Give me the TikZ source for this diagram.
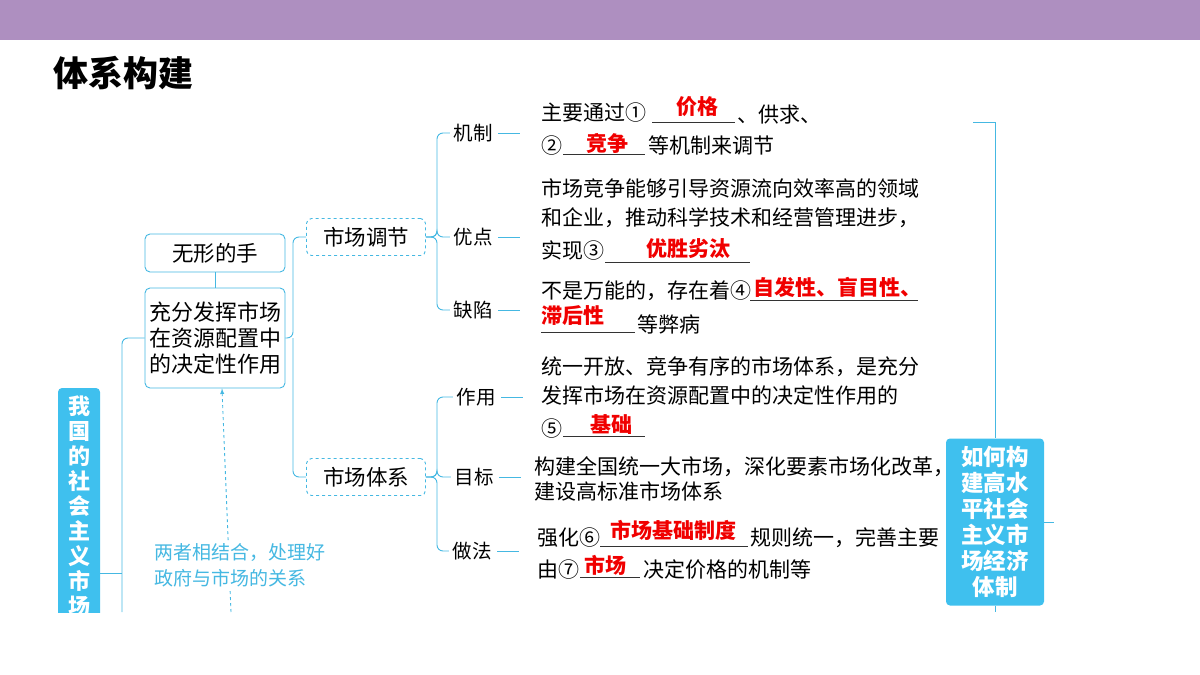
\documentclass[tikz,border=0pt]{standalone}
\usepackage{fontspec}
\setmainfont{Noto Sans CJK SC}
\usetikzlibrary{positioning}
\definecolor{topbar}{HTML}{AE8FC0}
\definecolor{lnblue}{HTML}{45B8E2}
\definecolor{boxblue}{HTML}{3FC0EE}
\definecolor{ansred}{HTML}{F00000}
\tikzset{
  lnk/.style={draw=lnblue, line width=0.9pt},
  whitebox/.style={draw=lnblue, line width=0.9pt, rounded corners=5pt, fill=white, inner sep=3pt},
  dashbox/.style={draw=lnblue, line width=0.9pt, dashed, rounded corners=5pt, minimum width=119pt, minimum height=37pt, font=\fontsize{21.5}{24}\selectfont},
  bluebox/.style={fill=boxblue, rounded corners=4pt, text=white, font=\bfseries\fontsize{22.5}{26}\selectfont, align=center},
  lbl/.style={font=\fontsize{19.5}{22}\selectfont},
  txt/.style={anchor=base west, inner sep=0pt, font=\fontsize{21}{22}\selectfont},
  ans/.style={anchor=base, inner sep=0pt, text=ansred, font=\bfseries\fontsize{21}{22}\selectfont},
  uline/.style={draw=black!80, line width=0.8pt},
}
\begin{document}
\begin{tikzpicture}[x=1pt,y=-1pt]
    \useasboundingbox (0,0) rectangle (1200,675);
    \fill[topbar] (0,0) rectangle (1200,40);
    \node[anchor=base west, inner sep=0pt, font=\bfseries\fontsize{35}{36}\selectfont] (title) at (53,86) {体系构建};

    % left side
    \begin{scope}
        \clip (0,0) rectangle (1200,612);
        \fill[boxblue, rounded corners=4pt] (58,388) rectangle (100,640);
        \node[anchor=north, inner sep=0pt, text=white, font=\bfseries\fontsize{22}{25}\selectfont, align=center] (leftlbl) at (79,396) {我\\国\\的\\社\\会\\主\\义\\市\\场};
    \end{scope}
    \coordinate (lefttip) at (100,573);
    \coordinate (trunkbot) at (122,612);
    \node[whitebox, minimum width=140pt, minimum height=38pt, font=\fontsize{21.5}{24}\selectfont] (hand) at (215,253) {无形的手};
    \node[whitebox, minimum width=140pt, minimum height=100pt, align=left, font=\fontsize{22}{26}\selectfont] (chong) at (215,338) {充分发挥市场\\在资源配置中\\的决定性作用};
    \draw[lnk] (hand) -- (chong);
    \draw[lnk] (lefttip) -- (122,573);
    \draw[lnk, rounded corners=6pt] (trunkbot) |- (chong.west);

    % dashed link
    \coordinate (dashbot) at (231,612);
    \draw[lnk, dashed, -latex] (dashbot) -- (chong.south -| 222,0);
    \node[anchor=north west, fill=white, inner sep=2pt, text=lnblue, align=left, font=\fontsize{19}{26}\selectfont] (jiehe) at (152,541) {两者相结合，处理好\\政府与市场的关系};

    % second level
    \node[dashbox] (tiaojie) at (366,237) {市场调节};
    \node[dashbox] (tixi) at (366,477) {市场体系};
    \draw[lnk, rounded corners=6pt] (chong.east) -- (293,338) |- (tiaojie.west);
    \draw[lnk, rounded corners=6pt] (293,338) |- (tixi.west);

    % third level
    \node[lbl] (jizhi) at (473,133) {机制};
    \node[lbl] (youdian) at (473,237) {优点};
    \node[lbl] (quexian) at (473,310) {缺陷};
    \node[lbl] (zuoyong) at (476,397) {作用};
    \node[lbl] (mubiao) at (474,477) {目标};
    \node[lbl] (zuofa) at (472,551) {做法};
    \foreach \n in {jizhi,youdian,quexian} {
        \draw[lnk, rounded corners=6pt] (tiaojie.east) -- (437,237) |- (\n.west);
    }
    \foreach \n in {zuoyong,mubiao,zuofa} {
        \draw[lnk, rounded corners=6pt] (tixi.east) -- (437,477) |- (\n.west);
    }
    \foreach \n in {jizhi,youdian,quexian,zuoyong,mubiao,zuofa} {
        \draw[lnk] (\n.east) ++(2,0) -- ++(22,0);
    }

    % texts
    \node[txt] (t1) at (541,120) {主要通过①};
    \draw[uline] (652,122) -- (735,122);
    \node[ans] (a1) at (697,114) {价格};
    \node[txt] (t1b) at (737,122) {、供求、};
    \node[txt] (t2) at (541,153) {②};
    \draw[uline] (563,154) -- (645,154);
    \node[ans] (a2) at (607,151) {竞争};
    \node[txt] (t2b) at (648,153) {等机制来调节};

    \node[txt] (t3) at (541,196) {市场竞争能够引导资源流向效率高的领域};
    \node[txt] (t4) at (541,225) {和企业，推动科学技术和经营管理进步，};
    \node[txt] (t5) at (541,258) {实现③};
    \draw[uline] (605,262) -- (750,262);
    \node[ans] (a3) at (688,256) {优胜劣汰};

    \node[txt] (t6) at (541,298) {不是万能的，存在着④};
    \draw[uline] (750,300) -- (918,300);
    \node[ans, anchor=base west] (a4) at (753,295) {自发性、盲目性、};
    \node[ans, anchor=base west] (a4b) at (541,323) {滞后性};
    \draw[uline] (541,332) -- (635,332);
    \node[txt] (t6b) at (637,332) {等弊病};

    \node[txt] (t7) at (541,374) {统一开放、竞争有序的市场体系，是充分};
    \node[txt] (t8) at (541,403) {发挥市场在资源配置中的决定性作用的};
    \node[txt] (t9) at (541,436) {⑤};
    \draw[uline] (563,436) -- (645,436);
    \node[ans] (a5) at (611,432) {基础};

    \node[txt] (t10) at (534,474) {构建全国统一大市场，深化要素市场化改革，};
    \node[txt] (t11) at (534,499) {建设高标准市场体系};

    \node[txt] (t12) at (537,545) {强化⑥};
    \draw[uline] (600,546) -- (748,546);
    \node[ans] (a6) at (673,538) {市场基础制度};
    \node[txt] (t12b) at (750,545) {规则统一，完善主要};
    \node[txt] (t13) at (537,577) {由⑦};
    \draw[uline] (580,577) -- (640,577);
    \node[ans] (a7) at (605,573) {市场};
    \node[txt] (t13b) at (643,577) {决定价格的机制等};

    % right box
    \node[bluebox, minimum width=98pt, minimum height=167pt] (rbox) at (995,522) {如何构\\建高水\\平社会\\主义市\\场经济\\体制};
    \coordinate (rtop) at (973,122);
    \coordinate (rbot) at (995,612);
    \coordinate (rtick) at (1054,522);
    \draw[lnk] (rtop) -- (995,122) -- (rbox.north);
    \draw[lnk] (rbox.south) -- (rbot);
    \draw[lnk] (rbox.east) -- (rtick);
\end{tikzpicture}
\end{document}
